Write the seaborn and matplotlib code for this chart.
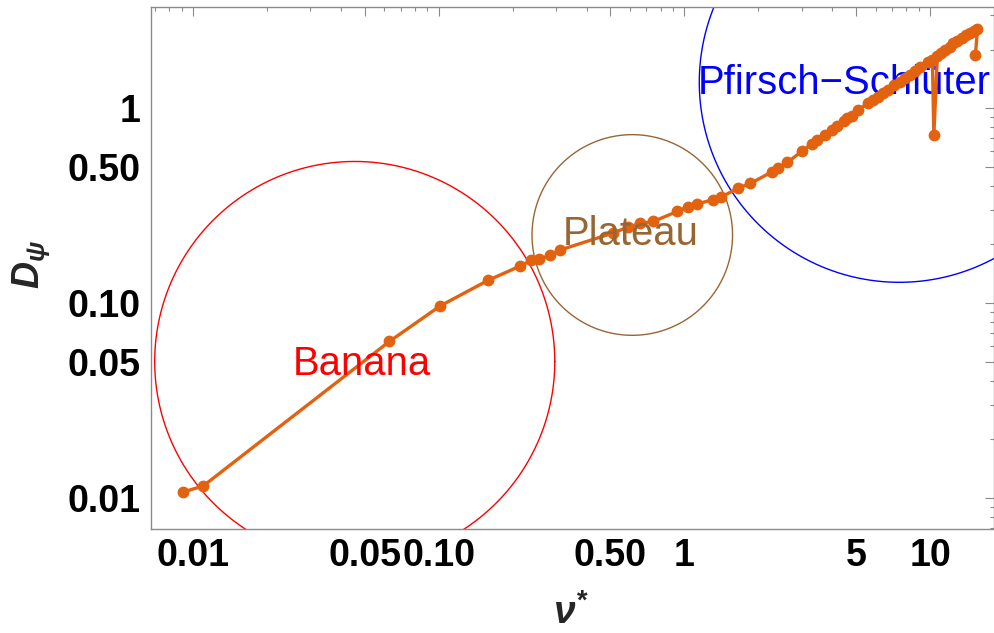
import numpy as np
import pandas as pd
import matplotlib
matplotlib.use("Agg")
import matplotlib.pyplot as plt
from matplotlib.ticker import FixedLocator, FixedFormatter, LogLocator, NullFormatter
import seaborn as sns

# Collisionality scan: normalised collision frequency vs radial diffusion coefficient
nu_star = [0.00913, 0.01101, 0.0630, 0.1015, 0.1585, 0.2148, 0.238, 0.2567, 0.2846,
           0.3126, 0.5136, 0.591, 0.6614, 0.747, 0.9357, 1.037, 1.128, 1.311, 1.413,
           1.657, 1.854, 2.279, 2.411, 2.623, 3.019, 3.316, 3.475, 3.746, 3.98, 4.194,
           4.455, 4.603, 4.825, 5.103, 5.604, 5.871, 6.152, 6.449, 6.761, 7.152, 7.561,
           7.929, 8.308, 8.707, 9.12, 9.833, 10.21, 10.35, 10.70, 11.11, 11.53, 12.01,
           12.43, 12.88, 13.49, 14.04, 14.58, 15.12, 15.57, 15.28]
d_psi = [0.01072, 0.01151, 0.0635, 0.0967, 0.1306, 0.155, 0.1655, 0.1674, 0.1766,
         0.1874, 0.229, 0.246, 0.2563, 0.2624, 0.2953, 0.313, 0.3226, 0.340, 0.350,
         0.390, 0.411, 0.4727, 0.4937, 0.527, 0.604, 0.658, 0.6876, 0.7294, 0.769, 0.811,
         0.861, 0.8862, 0.913, 0.980, 1.068, 1.103, 1.147, 1.191, 1.241, 1.31, 1.369,
         1.431, 1.482, 1.554, 1.629, 1.729, 1.77, 0.729, 1.856, 1.922, 1.992, 2.064,
         2.157, 2.216, 2.288, 2.364, 2.427, 2.494, 2.539, 1.866]

# Transport regimes: circle centre (nu*, D) and radius in decades along each axis
regime_names = ["Banana", "Plateau", "Pfirsch\u2212Schl\u00fcter"]
regime_colors = ["#FF0000", "#996633", "#0000FF"]
regime_cx = [0.04556, 0.6136, 7.49]
regime_cy = [0.0501, 0.2236, 1.36]
regime_rx = [0.814, 0.408, 0.814]
regime_ry = [1.027, 0.515, 1.027]
# label anchor (centre x, baseline y)
label_x = [0.0489, 0.602, 4.455]
label_y = [0.04275, 0.1987, 1.184]
label_on_top = [True, True, False]

x_major = [0.01, 0.05, 0.1, 0.5, 1, 5, 10]
x_major_labels = ["0.01", "0.05", "0.10", "0.50", "1", "5", "10"]
y_major = [0.01, 0.05, 0.1, 0.5, 1]
y_major_labels = ["0.01", "0.05", "0.10", "0.50", "1"]

sns.set_style("white")
plt.rcParams["font.family"] = ["Liberation Sans", "DejaVu Sans"]
plt.rcParams["mathtext.fontset"] = "custom"
plt.rcParams["mathtext.it"] = "Liberation Sans:italic:bold"
plt.rcParams["mathtext.rm"] = "Liberation Sans:bold"
plt.rcParams["mathtext.bf"] = "Liberation Sans:bold"

fig = plt.figure(figsize=(9.94, 6.33), dpi=100)
ax = fig.add_axes([0.152, 0.1648, 0.8475, 0.8242])
ax.set_xscale("log")
ax.set_yscale("log")

df = pd.DataFrame({"nu": nu_star, "D": d_psi})
orange = "#E2620F"
sns.lineplot(data=df, x="nu", y="D", sort=False, estimator=None, ax=ax,
             color=orange, linewidth=2.4, marker="o", markersize=8.5,
             markeredgewidth=0, markerfacecolor=orange, zorder=3)

t = np.linspace(0, 2 * np.pi, 400)
for name, col, cx, cy, rx, ry, lx, ly, top in zip(
        regime_names, regime_colors, regime_cx, regime_cy, regime_rx, regime_ry,
        label_x, label_y, label_on_top):
    ax.plot(cx * 10 ** (rx * np.cos(t)), cy * 10 ** (ry * np.sin(t)),
            color=col, linewidth=1.0, zorder=2)
    ax.text(lx, ly, name, color=col, fontsize=28.8, ha="center", va="baseline",
            zorder=4 if top else 2.5)

ax.set_xlim(0.00676, 18.1)
ax.set_ylim(0.00695, 3.31)

ax.xaxis.set_major_locator(FixedLocator(x_major))
ax.xaxis.set_major_formatter(FixedFormatter(x_major_labels))
ax.yaxis.set_major_locator(FixedLocator(y_major))
ax.yaxis.set_major_formatter(FixedFormatter(y_major_labels))
ax.xaxis.set_minor_locator(LogLocator(base=10, subs=(2, 3, 4, 6, 7, 8, 9), numticks=50))
ax.yaxis.set_minor_locator(LogLocator(base=10, subs=(2, 3, 4, 6, 7, 8, 9), numticks=50))
ax.xaxis.set_minor_formatter(NullFormatter())
ax.yaxis.set_minor_formatter(NullFormatter())

frame_gray = "#8A8A8A"
ax.tick_params(which="both", direction="in", top=True, right=True,
               color=frame_gray, width=0.8)
ax.tick_params(which="major", length=6.5)
ax.tick_params(which="minor", length=3.2)
ax.tick_params(axis="x", which="major", pad=6.5)
ax.tick_params(axis="y", which="major", pad=7.5)
for lab in ax.get_xticklabels() + ax.get_yticklabels():
    lab.set_fontsize(27)
    lab.set_fontweight("bold")
    lab.set_color("black")
for sp in ax.spines.values():
    sp.set_color(frame_gray)
    sp.set_linewidth(1.0)
    sp.set_visible(True)

ax.set_xlabel("")
ax.set_ylabel("")
fig.text(0.5745, 0.002, r"$\nu^{*}$", fontsize=28, ha="center", va="bottom")
fig.text(0.0312, 0.5813, r"$D_{\psi}$", fontsize=27, rotation=90,
         ha="center", va="center")

fig.savefig("out.png", dpi=100)
